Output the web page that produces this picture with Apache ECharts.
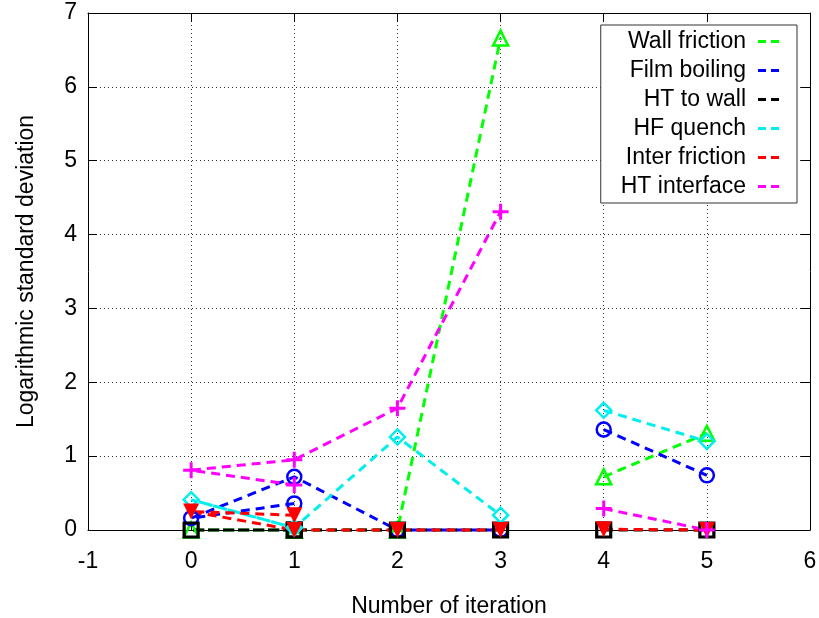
<!DOCTYPE html>
<html>
<head>
<meta charset="utf-8">
<script src="https://cdn.jsdelivr.net/npm/echarts@6/dist/echarts.min.js"></script>
<style>
  html, body { margin: 0; padding: 0; background: #ffffff; }
  #chart { width: 819px; height: 618px; }
</style>
</head>
<body>
<div id="chart"></div>
<script>
// Iteration of each point in plotting order (null = pen up between runs)
const iteration = [1, 0, 1, 2, 3, null, 4, 5];

// Logarithmic standard deviation per parameter, aligned with `iteration`
const wallFriction  = [0, 0, 0, 0, 6.66, null, 0.72, 1.31];
const filmBoiling   = [0.36, 0.16, 0.72, 0, 0, null, 1.36, 0.74];
const htToWall      = [0, 0, 0, 0, 0, null, 0, 0];
const hfQuench      = [0.03, 0.41, 0.03, 1.26, 0.20, null, 1.62, 1.20];
const interFriction = [0.20, 0.25, 0, 0, 0, null, 0.01, 0];
const htInterface   = [0.61, 0.81, 0.95, 1.65, 4.31, null, 0.29, 0];

const seriesNames = ['Wall friction', 'Film boiling', 'HT to wall', 'HF quench', 'Inter friction', 'HT interface'];
const seriesValues = [wallFriction, filmBoiling, htToWall, hfQuench, interFriction, htInterface];

// Axis ranges / tick steps
const xRange = [-1, 6];
const yRange = [0, 7];
const tickStep = 1;

// ---- styling ----
const FONT = "'Liberation Sans', Arial, Helvetica, sans-serif";
const colors = ['#00ff00', '#0000ff', '#000000', '#00eeee', '#ff0000', '#ff00ff'];
const plusPath = 'path://M0,6.5H16V9.5H0Z M6.5,0H9.5V16H6.5Z';
const markers = [
  { symbol: 'triangle', size: 15, hollow: true, rotate: 0 },
  { symbol: 'circle', size: 14, hollow: true, rotate: 0 },
  { symbol: 'rect', size: 14, hollow: true, rotate: 0, border: 3.2 },
  { symbol: 'diamond', size: 15, hollow: true, rotate: 0 },
  { symbol: 'triangle', size: 16, hollow: false, rotate: 180 },
  { symbol: plusPath, size: 16, hollow: false, rotate: 0 }
];
const dashIcon = 'path://M0,0H8V3H0Z M13,0H21V3H13Z';

function toPoints(values) {
  return values.map((v, i) => (v === null || iteration[i] === null) ? ['-', '-'] : [iteration[i], v]);
}

const series = seriesNames.map((name, i) => {
  const m = markers[i];
  return {
    name: name,
    type: 'line',
    data: toPoints(seriesValues[i]),
    connectNulls: false,
    clip: false,
    symbol: m.symbol,
    symbolSize: m.size,
    symbolRotate: m.rotate,
    showAllSymbol: true,
    silent: true,
    lineStyle: { color: colors[i], width: 3, type: [9, 6] },
    itemStyle: m.hollow
      ? { color: 'rgba(255,255,255,0)', borderColor: colors[i], borderWidth: m.border || 2.5 }
      : { color: colors[i], borderWidth: 0 },
    emphasis: { disabled: true },
    animation: false
  };
});

const gridLine = { show: true, lineStyle: { color: '#333', width: 1, type: [1, 3] } };
const axisLine = { show: true, onZero: false, lineStyle: { color: '#000', width: 1 } };
const tick = { show: true, inside: true, length: 9, lineStyle: { color: '#000', width: 1 } };
const label = { fontFamily: FONT, fontSize: 23, color: '#000' };

const chart = echarts.init(document.getElementById('chart'), null, { renderer: 'canvas' });
chart.setOption({
  backgroundColor: '#ffffff',
  animation: false,
  grid: { left: 88, right: 9, top: 13, bottom: 88, containLabel: false, outerBoundsMode: 'none' },
  xAxis: [
    {
      type: 'value', position: 'bottom', min: xRange[0], max: xRange[1], interval: tickStep,
      axisLine: axisLine, axisTick: tick, splitLine: gridLine,
      axisLabel: Object.assign({ margin: 20 }, label),
      name: 'Number of iteration', nameLocation: 'middle', nameGap: 65,
      nameTextStyle: label
    },
    {
      type: 'value', position: 'top', min: xRange[0], max: xRange[1], interval: tickStep,
      axisLine: axisLine, axisTick: tick, splitLine: { show: false }, axisLabel: { show: false }
    }
  ],
  yAxis: [
    {
      type: 'value', position: 'left', min: yRange[0], max: yRange[1], interval: tickStep,
      axisLine: axisLine, axisTick: tick, splitLine: gridLine,
      axisLabel: Object.assign({ margin: 11 }, label),
      name: 'Logarithmic standard deviation', nameLocation: 'middle', nameGap: 50,
      nameTextStyle: label
    },
    {
      type: 'value', position: 'right', min: yRange[0], max: yRange[1], interval: tickStep,
      axisLine: axisLine, axisTick: tick, splitLine: { show: false }, axisLabel: { show: false }
    }
  ],
  legend: {
    orient: 'vertical', align: 'right', right: 22, top: 25,
    backgroundColor: '#ffffff', borderColor: '#333', borderWidth: 1, borderRadius: 0,
    padding: [5, 18, 5, 20], itemGap: 6, itemWidth: 21, itemHeight: 3,
    selectedMode: false,
    textStyle: { fontFamily: FONT, fontSize: 23, color: '#000', padding: [0, 7, 0, 0] },
    data: seriesNames.map((n, i) => ({ name: n, icon: dashIcon, itemStyle: { color: colors[i], borderWidth: 0 } }))
  },
  series: series
});
</script>
</body>
</html>
